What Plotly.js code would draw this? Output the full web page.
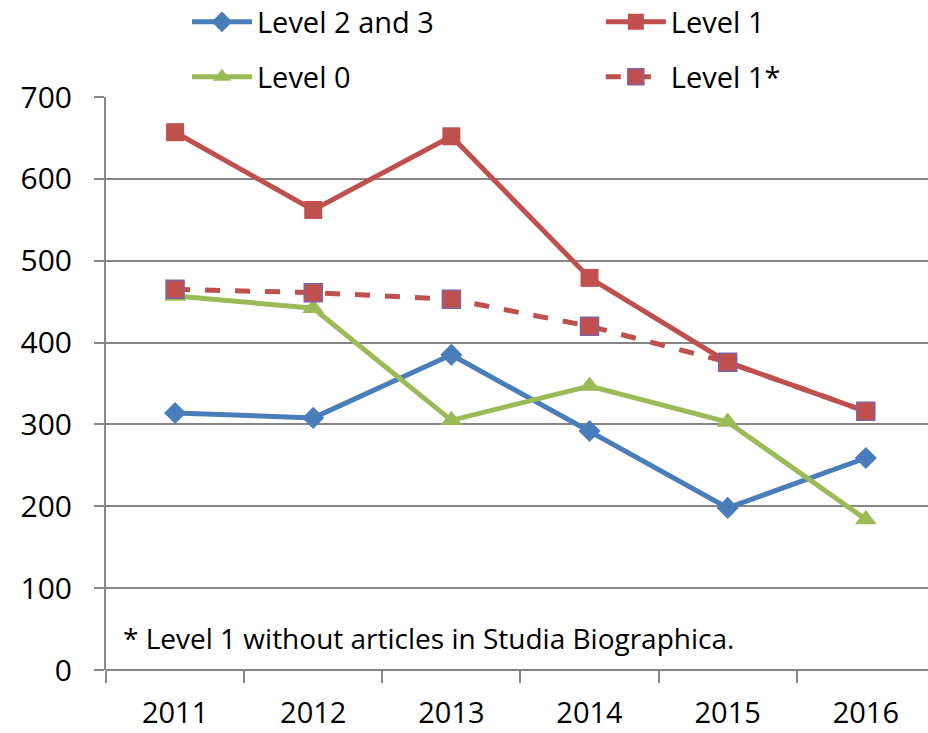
<!DOCTYPE html>
<html>
<head>
<meta charset="utf-8">
<script src="https://cdn.plot.ly/plotly-3.0.1.min.js"></script>
<style>html,body{margin:0;padding:0;background:#fff;}#chart{width:928px;height:733px;}</style>
</head>
<body>
<div id="chart"></div>
<script>
const years = ["2011", "2012", "2013", "2014", "2015", "2016"];
const level23 = [314, 308, 385, 292, 198, 259];
const level1 = [657, 562, 652, 479, 376, 316];
const level0 = [457, 442, 305, 347, 303, 184];
const level1star = [465, 461, 453, 420, 376, 316];
const note = "* Level 1 without articles in Studia Biographica.";

const FONT = "Open Sans, Noto Sans, sans-serif";

const traces = [
  {x: years, y: level23, name: "Level 2 and 3", type: "scatter", mode: "lines+markers",
   line: {color: "#4A7EBB", width: 5}, marker: {symbol: "diamond", size: 17, color: "#4A7EBB"},
   legend: "legend"},
  {x: years, y: level1, name: "Level 1", type: "scatter", mode: "lines+markers",
   line: {color: "#C0504D", width: 5}, marker: {symbol: "square", size: 18, color: "#C0504D"},
   legend: "legend2"},
  {x: years, y: level0, name: "Level 0", type: "scatter", mode: "lines+markers",
   line: {color: "#9BBB59", width: 5}, marker: {symbol: "triangle-up", size: 19, color: "#9BBB59"},
   legend: "legend3"},
  {x: years, y: level1star, name: "Level 1*", type: "scatter", mode: "lines+markers",
   line: {color: "#C0504D", width: 5, dash: "dash"},
   marker: {symbol: "square", size: 18, color: "#C0504D", line: {color: "#8064A2", width: 1.5}},
   legend: "legend4"}
];

const legendBase = {
  orientation: "h", xanchor: "left", yanchor: "middle",
  font: {family: FONT, size: 29, color: "#000"},
  itemwidth: 60,
  bgcolor: "rgba(0,0,0,0)", traceorder: "normal"
};
const col1 = 0.0985, col2 = 0.602, row1 = 1.131, row2 = 1.035;

const layout = {
  width: 928, height: 733,
  margin: {l: 106, r: 0, t: 97, b: 63, autoexpand: false},
  paper_bgcolor: "#fff", plot_bgcolor: "#fff",
  font: {family: FONT, color: "#000"},
  showlegend: true,
  legend: Object.assign({}, legendBase, {x: col1, y: row1}),
  legend2: Object.assign({}, legendBase, {x: col2, y: row1}),
  legend3: Object.assign({}, legendBase, {x: col1, y: row2}),
  legend4: Object.assign({}, legendBase, {x: col2, y: row2}),
  xaxis: {
    type: "category", range: [-0.5, 5.45],
    showgrid: false, zeroline: false,
    showline: false,
    ticks: "outside", tickson: "boundaries", ticklen: 12, tickwidth: 2, tickcolor: "#868686",
    tickfont: {family: FONT, size: 29, color: "#000"},
    ticklabelstandoff: 23
  },
  yaxis: {
    range: [0, 700], tickvals: [0, 100, 200, 300, 400, 500, 600, 700],
    showgrid: true, gridcolor: "#868686", gridwidth: 2,
    zeroline: true, zerolinecolor: "#868686", zerolinewidth: 2,
    showline: true, linecolor: "#868686", linewidth: 2,
    ticks: "outside", ticklen: 10, tickwidth: 2, tickcolor: "#868686",
    tickfont: {family: FONT, size: 30, color: "#000"},
    ticklabelstandoff: 16
  },
  annotations: [{
    text: note, xref: "paper", yref: "paper", x: 0.018, y: 0.055,
    xanchor: "left", yanchor: "middle", showarrow: false,
    font: {family: FONT, size: 28, color: "#000"}
  }]
};

Plotly.newPlot("chart", traces, layout, {displayModeBar: false, staticPlot: true});
</script>
</body>
</html>
